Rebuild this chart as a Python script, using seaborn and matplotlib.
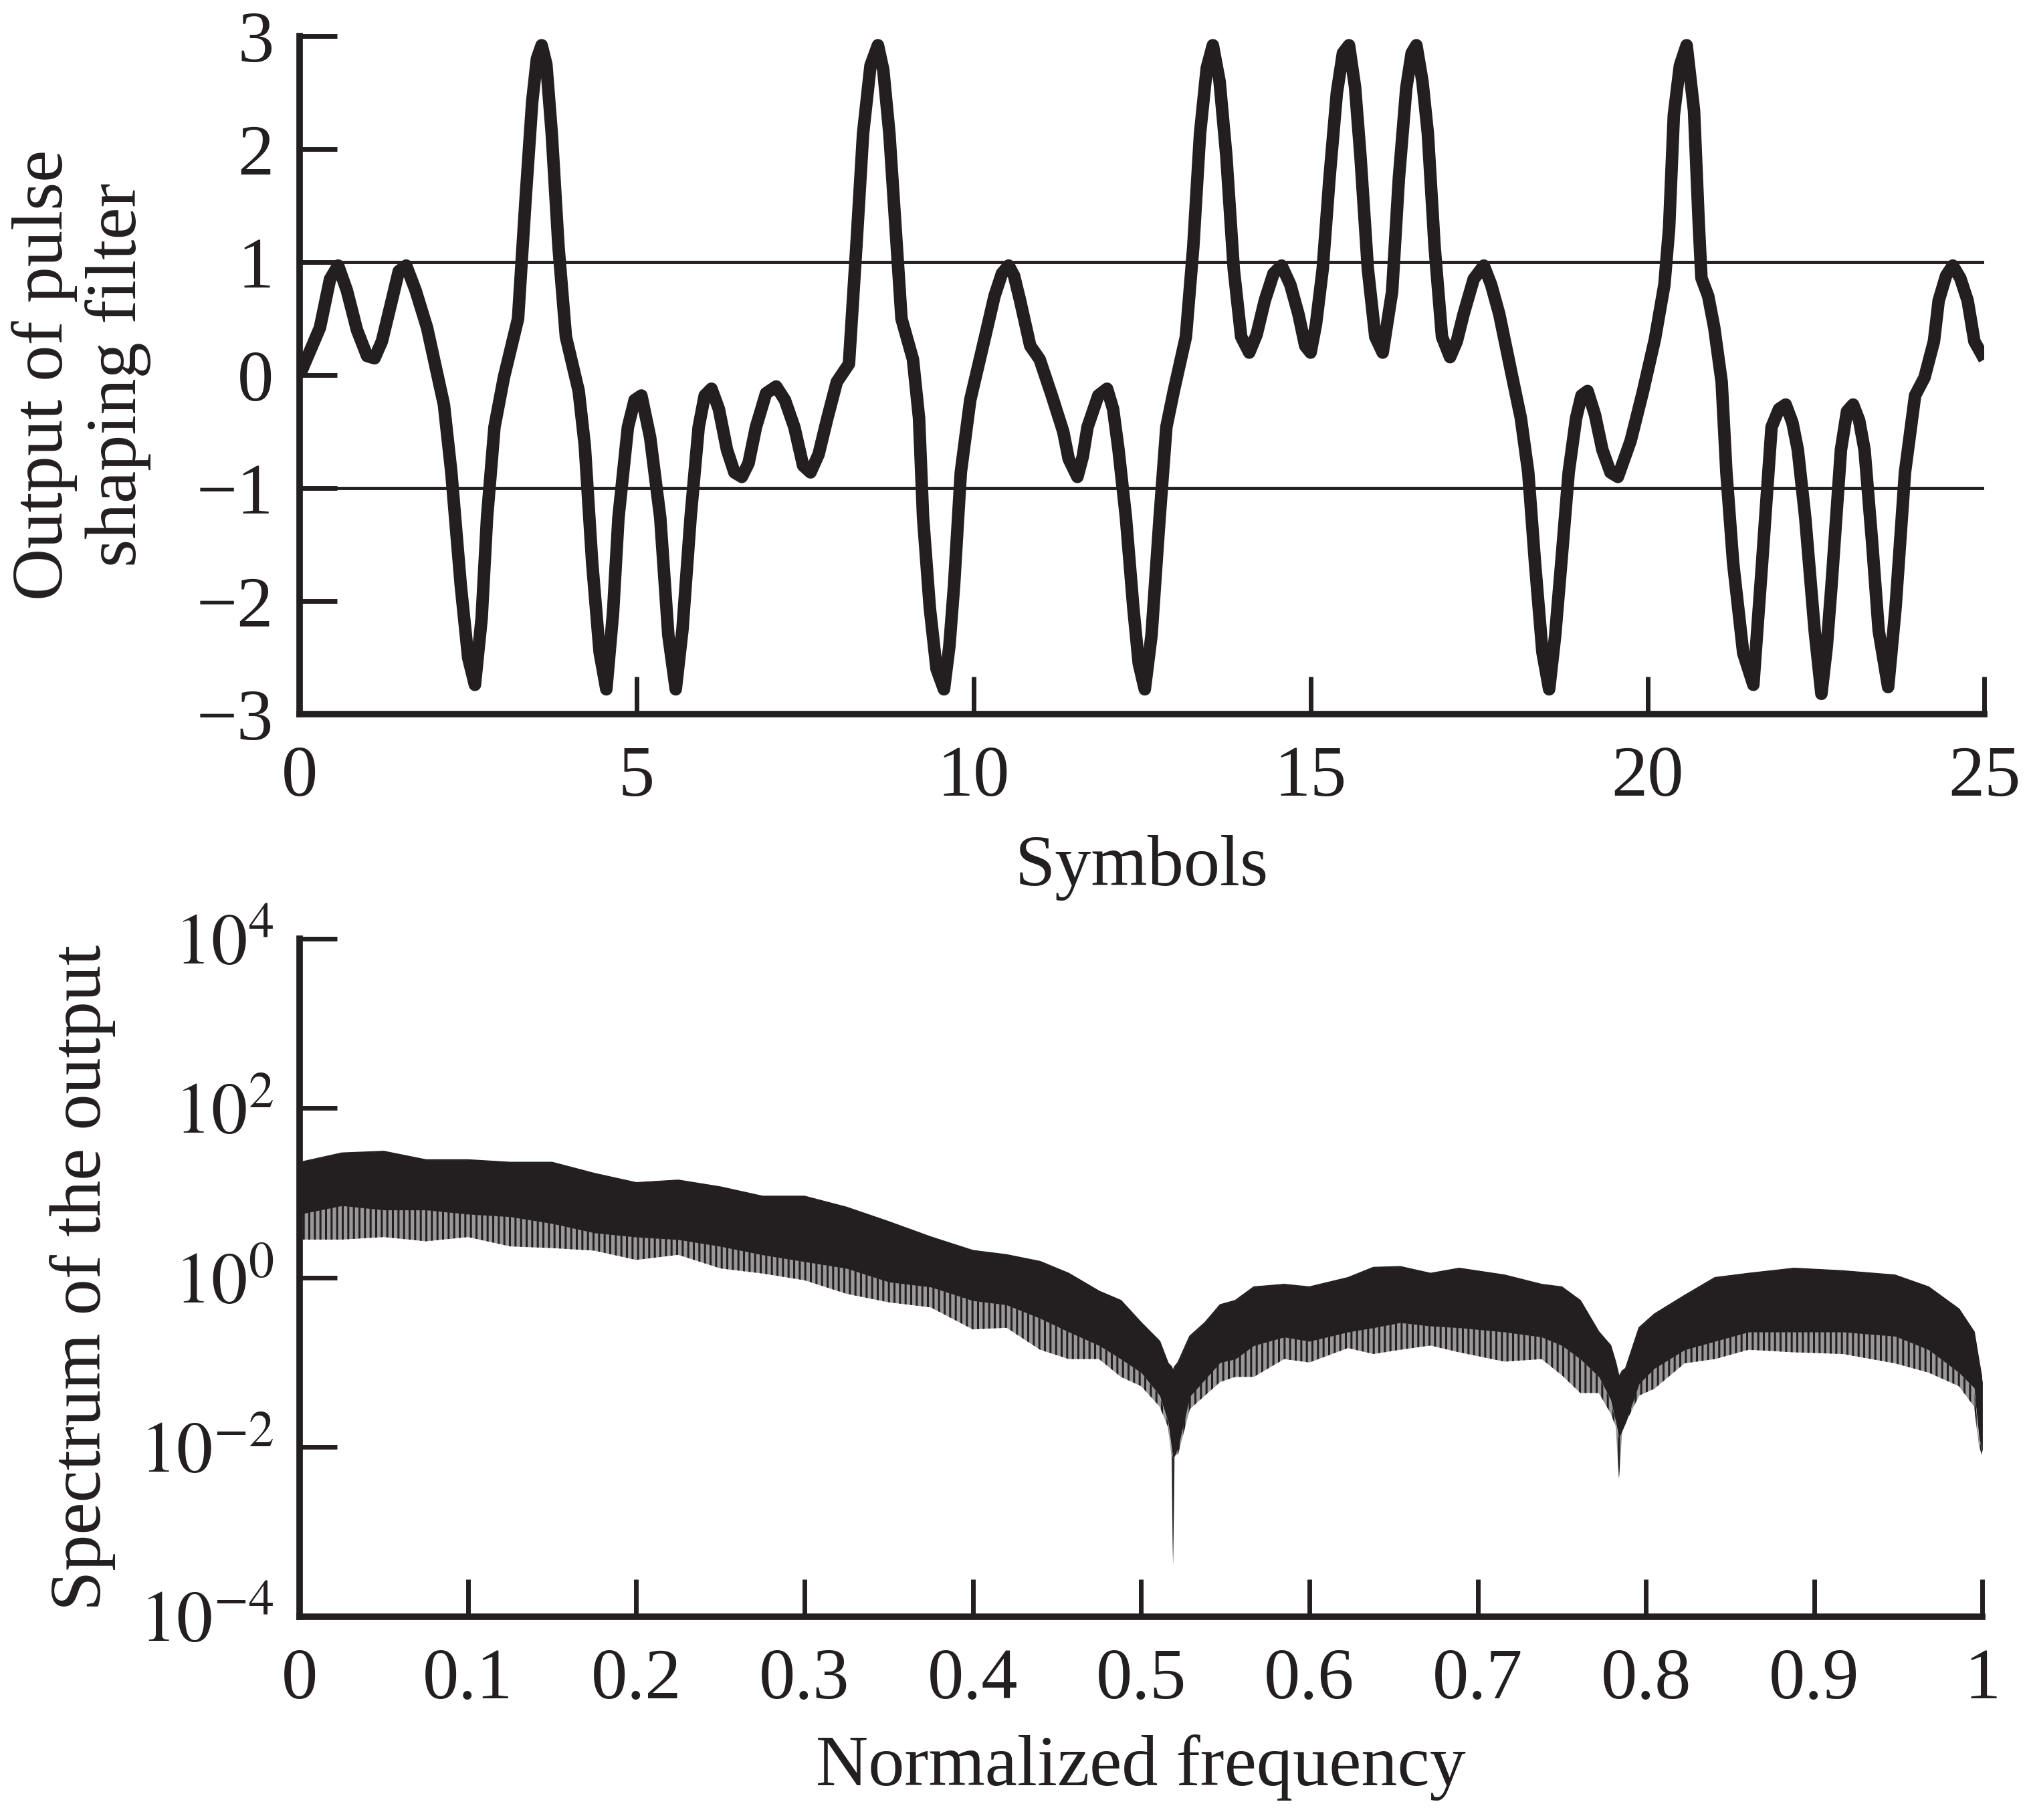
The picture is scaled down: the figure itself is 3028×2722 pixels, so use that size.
import numpy as np
import pandas as pd
import matplotlib
matplotlib.use("Agg")
import matplotlib.pyplot as plt
import seaborn as sns

# Filter output (symbol time, amplitude)
sym_t = [0.00, 0.30, 0.45, 0.57, 0.70, 0.85, 1.00, 1.11, 1.22, 1.35, 1.47, 1.58, 1.72, 1.89,
         2.14, 2.25, 2.39, 2.50, 2.60, 2.70, 2.78, 2.89, 3.03, 3.24, 3.35, 3.45, 3.52, 3.59,
         3.66, 3.74, 3.84, 3.95, 4.14, 4.23, 4.34, 4.45, 4.55, 4.65, 4.73, 4.87, 4.97, 5.07,
         5.20, 5.35, 5.47, 5.58, 5.68, 5.80, 5.92, 6.01, 6.11, 6.22, 6.34, 6.45, 6.56, 6.66,
         6.77, 6.92, 7.07, 7.20, 7.34, 7.47, 7.58, 7.70, 7.83, 7.97, 8.15, 8.26, 8.36, 8.47,
         8.58, 8.66, 8.75, 8.86, 8.93, 9.10, 9.19, 9.25, 9.35, 9.45, 9.56, 9.64, 9.71, 9.81,
         9.95, 10.17, 10.31, 10.42, 10.52, 10.60, 10.69, 10.84, 10.98, 11.16, 11.33, 11.41,
         11.54, 11.62, 11.69, 11.85, 11.98, 12.07, 12.15, 12.26, 12.37, 12.45, 12.54, 12.64,
         12.76, 12.86, 12.97, 13.15, 13.26, 13.36, 13.46, 13.55, 13.65, 13.75, 13.86, 13.97,
         14.09, 14.20, 14.32, 14.45, 14.57, 14.70, 14.82, 14.92, 15.00, 15.08, 15.18, 15.28,
         15.39, 15.48, 15.57, 15.66, 15.74, 15.85, 15.96, 16.07, 16.21, 16.31, 16.42, 16.50,
         16.57, 16.66, 16.74, 16.84, 16.95, 17.07, 17.17, 17.27, 17.42, 17.57, 17.68, 17.80,
         17.98, 18.12, 18.23, 18.33, 18.44, 18.54, 18.63, 18.72, 18.83, 18.94, 19.02, 19.11,
         19.22, 19.33, 19.45, 19.56, 19.75, 19.93, 20.11, 20.25, 20.32, 20.39, 20.48, 20.58,
         20.69, 20.76, 20.80, 20.90, 20.99, 21.10, 21.17, 21.27, 21.42, 21.57, 21.70, 21.84,
         21.95, 22.05, 22.15, 22.23, 22.34, 22.48, 22.58, 22.66, 22.73, 22.87, 22.96, 23.05,
         23.14, 23.22, 23.33, 23.43, 23.57, 23.68, 23.82, 23.97, 24.11, 24.25, 24.32, 24.43,
         24.53, 24.64, 24.75, 24.85, 25.00]
filt_out = [0.00, 0.42, 0.85, 0.97, 0.75, 0.40, 0.17, 0.15, 0.30, 0.62, 0.92, 0.97, 0.75, 0.42,
            -0.26, -0.86, -1.86, -2.50, -2.74, -2.15, -1.26, -0.46, -0.02, 0.50, 1.54, 2.42, 2.80, 2.92,
            2.75, 2.14, 1.14, 0.34, -0.14, -0.62, -1.66, -2.45, -2.78, -2.10, -1.26, -0.46, -0.22, -0.18,
            -0.55, -1.26, -2.30, -2.78, -2.25, -1.26, -0.46, -0.18, -0.12, -0.30, -0.66, -0.86, -0.90, -0.78,
            -0.46, -0.16, -0.10, -0.22, -0.46, -0.80, -0.86, -0.70, -0.38, -0.06, 0.10, 1.14, 2.14, 2.74,
            2.92, 2.70, 2.14, 1.14, 0.50, 0.14, -0.38, -1.26, -2.06, -2.60, -2.78, -2.40, -1.86, -0.86,
            -0.22, 0.34, 0.70, 0.90, 0.97, 0.88, 0.66, 0.26, 0.14, -0.18, -0.50, -0.74,
            -0.90, -0.72, -0.46, -0.18, -0.12, -0.30, -0.66, -1.26, -2.06, -2.55, -2.78, -2.30,
            -1.26, -0.46, -0.14, 0.34, 1.14, 2.14, 2.72, 2.92, 2.60, 1.94, 0.94, 0.34,
            0.20, 0.36, 0.66, 0.90, 0.97, 0.80, 0.54, 0.26, 0.20, 0.45, 0.94, 1.74,
            2.50, 2.85, 2.92, 2.55, 1.94, 0.94, 0.34, 0.20, 0.74, 1.74, 2.54, 2.85,
            2.92, 2.60, 2.14, 1.14, 0.34, 0.16, 0.30, 0.54, 0.85, 0.97, 0.80, 0.54,
            0.02, -0.38, -0.86, -1.66, -2.45, -2.78, -2.30, -1.66, -0.86, -0.38, -0.18, -0.14,
            -0.35, -0.66, -0.86, -0.90, -0.58, -0.15, 0.32, 0.80, 1.30, 2.30, 2.74, 2.92,
            2.34, 1.34, 0.86, 0.70, 0.42, -0.06, -0.86, -1.66, -2.46, -2.74, -1.66, -0.46,
            -0.30, -0.26, -0.42, -0.66, -1.26, -2.26, -2.82, -2.40, -1.86, -0.66, -0.32, -0.26,
            -0.40, -0.66, -1.46, -2.26, -2.76, -2.06, -0.86, -0.18, -0.02, 0.30, 0.66, 0.88,
            0.97, 0.86, 0.66, 0.30, 0.14]

# Spectrum band, as log10 of the magnitude
freq = [0.000, 0.025, 0.050, 0.075, 0.100, 0.125, 0.150, 0.175, 0.200, 0.225, 0.250, 0.275,
        0.300, 0.325, 0.350, 0.375, 0.400, 0.420, 0.440, 0.457, 0.475, 0.488, 0.500, 0.511,
        0.516, 0.518, 0.519, 0.520, 0.522, 0.529, 0.538, 0.547, 0.556, 0.567, 0.585, 0.600,
        0.623, 0.638, 0.654, 0.672, 0.689, 0.716, 0.738, 0.750, 0.761, 0.772, 0.779, 0.782,
        0.784, 0.786, 0.788, 0.796, 0.805, 0.823, 0.841, 0.861, 0.888, 0.917, 0.948, 0.968,
        0.986, 0.995, 0.998, 1.000]
spec_top = [1.36, 1.47, 1.49, 1.39, 1.39, 1.36, 1.36, 1.23, 1.12, 1.15, 1.07, 0.96,
            0.96, 0.83, 0.66, 0.48, 0.32, 0.27, 0.19, 0.05, -0.16, -0.27, -0.53, -0.75,
            -1.01, -1.05, -1.10, -1.05, -1.00, -0.69, -0.53, -0.32, -0.27, -0.11, -0.08, -0.11,
            0.00, 0.12, 0.13, 0.05, 0.11, 0.03, -0.08, -0.11, -0.27, -0.64, -0.80, -1.00,
            -1.17, -1.10, -1.07, -0.59, -0.43, -0.21, 0.00, 0.05, 0.11, 0.08, 0.03, -0.11,
            -0.37, -0.64, -1.00, -1.23]
spec_core = [0.75, 0.85, 0.80, 0.80, 0.75, 0.72, 0.64, 0.53, 0.48, 0.45, 0.37, 0.27,
             0.19, 0.11, -0.05, -0.11, -0.27, -0.32, -0.48, -0.64, -0.80, -0.96, -1.12, -1.39,
             -1.70, -2.00, -2.13, -2.10, -2.00, -1.40, -1.20, -1.00, -0.96, -0.80, -0.70, -0.75,
             -0.64, -0.59, -0.53, -0.57, -0.59, -0.64, -0.70, -0.80, -0.96, -1.17, -1.44, -1.70,
             -1.89, -1.80, -1.71, -1.25, -1.07, -0.85, -0.75, -0.64, -0.64, -0.64, -0.69, -0.85,
             -1.12, -1.30, -1.90, -2.05]
spec_dip = [0.45, 0.45, 0.48, 0.43, 0.48, 0.37, 0.35, 0.32, 0.21, 0.27, 0.11, 0.05,
            -0.03, -0.19, -0.29, -0.35, -0.61, -0.59, -0.85, -0.96, -0.96, -1.17, -1.28, -1.52,
            -1.76, -2.10, -3.39, -2.10, -2.08, -1.55, -1.39, -1.23, -1.17, -1.17, -0.96, -1.00,
            -0.83, -0.90, -0.85, -0.80, -0.88, -0.99, -0.96, -1.15, -1.36, -1.36, -1.60, -1.75,
            -2.37, -1.80, -1.71, -1.39, -1.31, -1.01, -0.96, -0.85, -0.88, -0.90, -1.01, -1.12,
            -1.28, -1.52, -2.00, -2.10]

sym_ticks = [0, 5, 10, 15, 20, 25]
amp_ticks = [-3, -2, -1, 0, 1, 2, 3]
freq_ticks = [0, 0.1, 0.2, 0.3, 0.4, 0.5, 0.6, 0.7, 0.8, 0.9, 1.0]
freq_labels = ["0", "0.1", "0.2", "0.3", "0.4", "0.5", "0.6", "0.7", "0.8", "0.9", "1"]
dec_ticks = [1e-4, 1e-2, 1e0, 1e2, 1e4]
dec_labels = [r"$10^{-4}$", r"$10^{-2}$", r"$10^{0}$", r"$10^{2}$", r"$10^{4}$"]

sns.set_theme(style="ticks")
plt.rcParams["font.family"] = ["Liberation Serif", "DejaVu Serif"]
plt.rcParams["mathtext.fontset"] = "stix"
plt.rcParams["hatch.linewidth"] = 2.2

ink = "#231f20"
fs = 78

wave = pd.DataFrame({"t": sym_t, "y": filt_out})
spec = pd.DataFrame({"f": freq,
                     "top": np.power(10.0, spec_top),
                     "core": np.power(10.0, spec_core),
                     "dip": np.power(10.0, spec_dip)})

fig = plt.figure(figsize=(30.28, 27.22), dpi=100)
ax1 = fig.add_axes([0.148, 0.6076, 0.832, 0.3725])
ax2 = fig.add_axes([0.148, 0.1117, 0.831, 0.3725])

# upper panel
ax1.axhline(1, color=ink, linewidth=3.5, zorder=1)
ax1.axhline(-1, color=ink, linewidth=3.5, zorder=1)
sns.lineplot(data=wave, x="t", y="y", ax=ax1, color=ink, sort=False, zorder=3)
wave_line = ax1.lines[-1]
wave_line.set_linewidth(13.5)
wave_line.set_solid_joinstyle("round")
wave_line.set_solid_capstyle("butt")
ax1.set_xlim(0, 25)
ax1.set_ylim(-3, 3)
ax1.set_xticks(sym_ticks)
ax1.set_yticks(amp_ticks)
ax1.set_xlabel("Symbols", fontsize=fs, color=ink, labelpad=26)
ax1.set_ylabel("Output of pulse\nshaping filter", fontsize=fs, color=ink,
               linespacing=1.15)
ax1.yaxis.set_label_coords(-0.088, 0.5)

# lower panel: dense core in solid ink, spiky fringe below it hatched
ax2.fill_between(spec["f"], spec["dip"], spec["core"], facecolor="#9a9899",
                 edgecolor=ink, hatch="||", linewidth=0)
ax2.fill_between(spec["f"], spec["core"], spec["top"], color=ink, linewidth=0)
sns.lineplot(data=spec, x="f", y="top", ax=ax2, color=ink)
ax2.lines[-1].set_linewidth(1.5)
ax2.set_yscale("log")
ax2.set_xlim(0, 1)
ax2.set_ylim(1e-4, 1e4)
ax2.set_xticks(freq_ticks)
ax2.set_xticklabels(freq_labels)
ax2.set_yticks(dec_ticks)
ax2.set_yticklabels(dec_labels)
ax2.yaxis.set_minor_locator(matplotlib.ticker.NullLocator())
ax2.set_xlabel("Normalized frequency", fontsize=fs, color=ink, labelpad=22)
ax2.set_ylabel("Spectrum of the output", fontsize=fs, color=ink)
ax2.yaxis.set_label_coords(-0.1095, 0.5)

for ax in (ax1, ax2):
    for side in ("top", "right"):
        ax.spines[side].set_visible(False)
    for side in ("left", "bottom"):
        ax.spines[side].set_linewidth(7)
        ax.spines[side].set_color(ink)
    ax.tick_params(axis="both", which="major", direction="in", length=40, width=5,
                   color=ink, labelcolor=ink, labelsize=fs)
    ax.tick_params(axis="x", pad=34)
    ax.tick_params(axis="y", pad=28)
    ax.grid(False)

fig.savefig("out.png", dpi=100, facecolor="white")
